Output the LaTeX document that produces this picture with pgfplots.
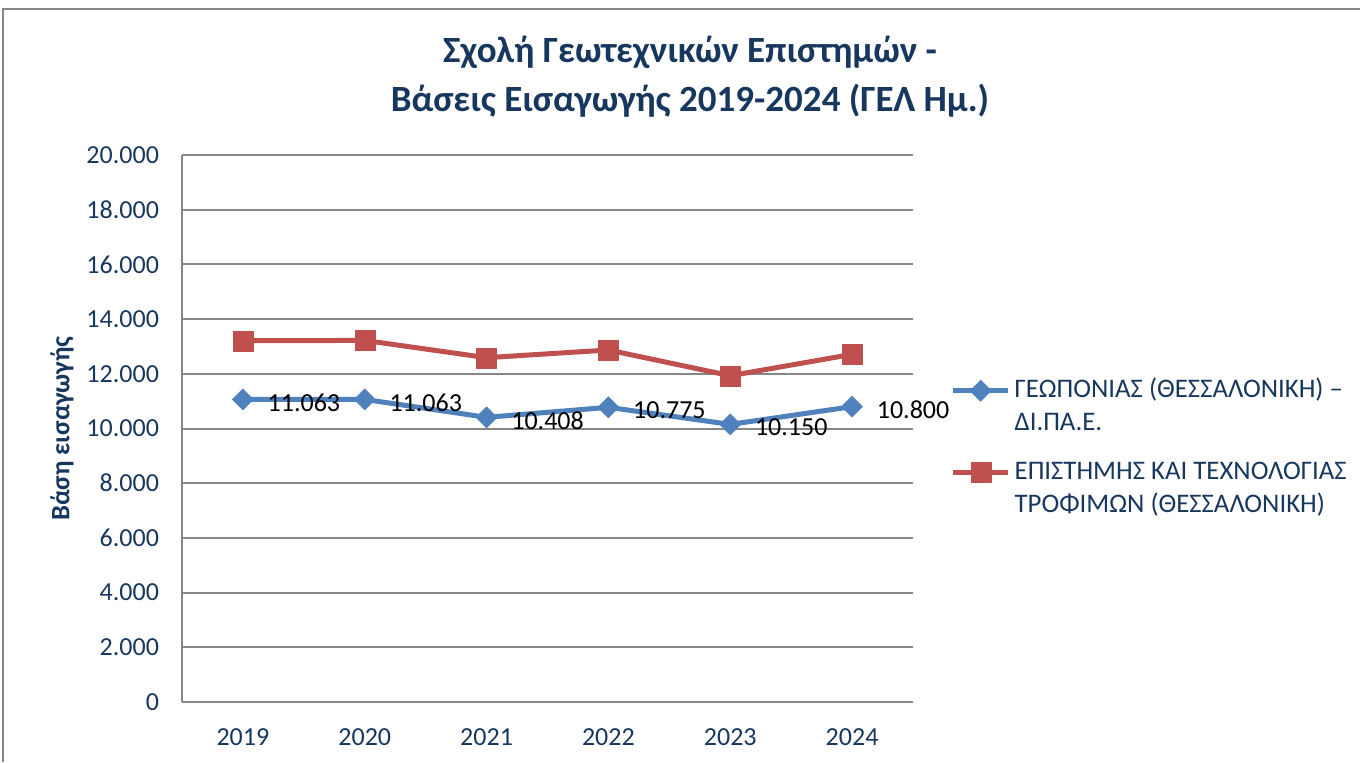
\documentclass[border=0pt]{standalone}
\usepackage{fontspec}
\setmainfont{Carlito}
\usepackage{pgfplots}
\pgfplotsset{compat=1.18}
\definecolor{navy}{HTML}{17375E}
\definecolor{sblue}{HTML}{4F81BD}
\definecolor{sred}{HTML}{C0504D}
\definecolor{gridg}{HTML}{868686}
\newcommand{\twolines}[2]{\vtop{\baselineskip=16.5pt\hbox{#1}\hbox{#2}}}
\begin{document}
\begin{tikzpicture}[x=0.5pt,y=0.5pt]
\path[use as bounding box] (0,0) rectangle (1360,762);
\draw[gridg, line width=1pt] (3,0) -- (3,753) -- (1360,753);
\node[navy, font=\fontsize{18.5}{22}\selectfont\bfseries] at (690,710) {Σχολή Γεωτεχνικών Επιστημών -};
\node[navy, font=\fontsize{18.5}{22}\selectfont\bfseries] at (690,661) {Βάσεις Εισαγωγής 2019-2024 (ΓΕΛ Ημ.)};
\begin{axis}[
  at={(91pt,30pt)}, anchor=south west,
  scale only axis, width=365.5pt, height=273.5pt,
  xmin=-0.5, xmax=5.5, ymin=0, ymax=20000,
  xtick=data, xticklabels={2019,2020,2021,2022,2023,2024},
  ytick={0,2000,...,20000},
  scaled y ticks=false,
  /pgf/number format/.cd, 1000 sep={.}, assume math mode=true, /pgfplots/.cd,
  axis lines*=left,
  axis line style={gridg, line width=1pt},
  ymajorgrids, grid style={gridg, line width=1pt},
  major tick length=0pt,
  tick label style={navy, font=\fontsize{13}{15}\selectfont},
  yticklabel style={xshift=-8pt},
  xticklabel style={yshift=-10pt},
  ylabel={Βάση εισαγωγής},
  every axis y label/.style={at={(-60pt,0.5)}, rotate=90, anchor=center, navy, font=\fontsize{13.3}{15}\selectfont\bfseries},
  legend cell align=left,
  legend style={at={(1.051,0.6)}, anchor=north west, draw=none, fill=none,
    font=\fontsize{13.4}{16.5}\selectfont, text=navy, inner sep=0pt,
    cells={anchor=base west}, row sep=26.5pt},
  legend image code/.code={\draw[mark repeat=2,mark phase=2,#1] plot coordinates {(0pt,3.5pt)(13.75pt,3.5pt)(27.5pt,3.5pt)};},
]
\addplot[sblue, line width=2.5pt, line join=round, mark=square*,
  mark options={rotate=45, line width=0.1pt, fill=sblue}, mark size=3.8pt,
  nodes near coords,
  every node near coord/.style={anchor=west, black, xshift=9pt, yshift=-1.5pt, font=\fontsize{13}{15}\selectfont}]
  coordinates {(0,11063)(1,11063)(2,10408)(3,10775)(4,10150)(5,10800)};
\addlegendentry{\twolines{ΓΕΩΠΟΝΙΑΣ (ΘΕΣΣΑΛΟΝΙΚΗ) –}{ΔΙ.ΠΑ.Ε.}}
\addplot[sred, line width=2.5pt, line join=round, mark=square*,
  mark options={line width=0.1pt, fill=sred}, mark size=5pt]
  coordinates {(0,13210)(1,13220)(2,12590)(3,12870)(4,11930)(5,12710)};
\addlegendentry{\twolines{ΕΠΙΣΤΗΜΗΣ ΚΑΙ ΤΕΧΝΟΛΟΓΙΑΣ}{ΤΡΟΦΙΜΩΝ (ΘΕΣΣΑΛΟΝΙΚΗ)}}
\end{axis}
\end{tikzpicture}
\end{document}
